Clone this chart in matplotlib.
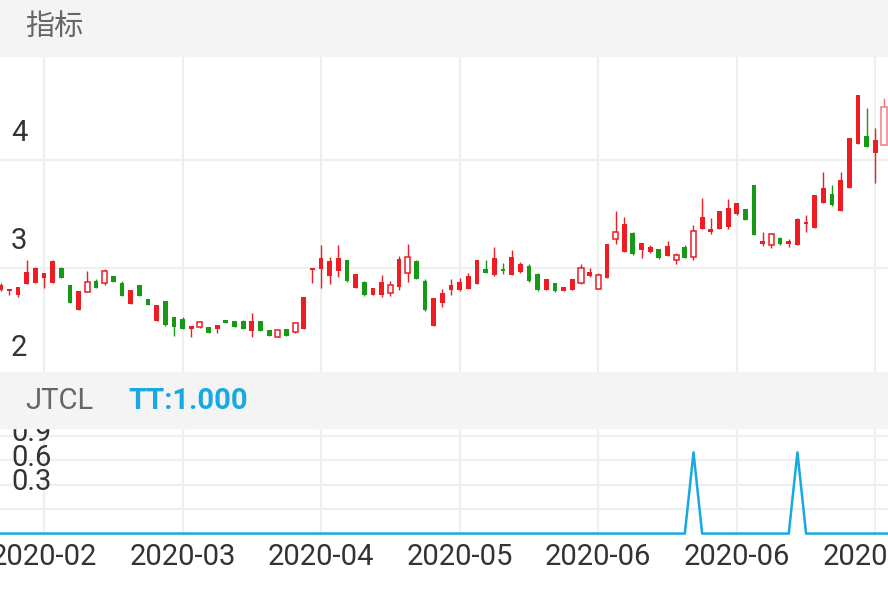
import matplotlib
matplotlib.use('Agg')
import matplotlib.pyplot as plt
import matplotlib.transforms as mtransforms
from matplotlib.patches import Rectangle
import numpy as np

plt.rcParams['font.family'] = ['Roboto', 'Noto Sans CJK SC', 'DejaVu Sans']

# daily OHLC (one value per trading day)
opens = [2.79, 2.78, 2.75, 2.85, 2.86, 2.90, 2.86, 3.00, 2.84, 2.61,
         2.77, 2.88, 2.86, 2.92, 2.86, 2.66, 2.84, 2.71, 2.50, 2.69,
         2.54, 2.52, 2.43, 2.45, 2.45, 2.43, 2.51, 2.50, 2.50, 2.41,
         2.50, 2.42, 2.35, 2.43, 2.40, 2.43, 2.98, 2.99, 2.92, 2.97,
         3.07, 2.81, 2.87, 2.75, 2.75, 2.76, 2.82, 2.95, 3.06, 2.88,
         2.46, 2.67, 2.79, 2.79, 2.80, 2.85, 2.99, 2.93, 2.99, 2.93,
         2.96, 3.02, 2.94, 2.79, 2.86, 2.78, 2.79, 2.86, 2.92, 2.80,
         2.90, 3.27, 3.15, 3.32, 3.16, 3.15, 3.17, 3.11, 3.07, 3.19,
         3.10, 3.36, 3.33, 3.36, 3.38, 3.50, 3.55, 3.77, 3.22, 3.21,
         3.28, 3.22, 3.21, 3.41, 3.37, 3.60, 3.69, 3.53, 3.74, 4.15,
         4.23, 4.07, 4.14]
highs = [2.86, 2.80, 2.82, 3.07, 3.01, 2.95, 3.07, 3.01, 2.84, 2.78,
         2.97, 2.89, 2.99, 2.92, 2.88, 2.79, 2.84, 2.71, 2.65, 2.69,
         2.54, 2.54, 2.46, 2.50, 2.45, 2.47, 2.51, 2.50, 2.51, 2.58,
         2.50, 2.42, 2.42, 2.43, 2.49, 2.73, 3.00, 3.21, 3.10, 3.21,
         3.07, 2.94, 2.88, 2.81, 2.93, 2.88, 3.11, 3.22, 3.07, 2.89,
         2.72, 2.80, 2.89, 2.90, 2.95, 3.07, 3.07, 3.19, 3.04, 3.16,
         3.05, 3.03, 2.95, 2.89, 2.86, 2.82, 2.89, 3.03, 3.00, 2.95,
         3.22, 3.53, 3.47, 3.33, 3.23, 3.21, 3.17, 3.25, 3.14, 3.21,
         3.40, 3.65, 3.46, 3.53, 3.64, 3.60, 3.55, 3.77, 3.33, 3.32,
         3.29, 3.27, 3.46, 3.49, 3.68, 3.89, 3.77, 3.89, 4.21, 4.61,
         4.49, 4.30, 4.58]
lows = [2.78, 2.75, 2.73, 2.85, 2.86, 2.81, 2.86, 2.90, 2.67, 2.61,
        2.77, 2.81, 2.84, 2.87, 2.74, 2.66, 2.74, 2.65, 2.50, 2.46,
        2.36, 2.43, 2.35, 2.44, 2.39, 2.39, 2.48, 2.45, 2.43, 2.35,
        2.41, 2.36, 2.35, 2.36, 2.39, 2.43, 2.86, 2.81, 2.85, 2.91,
        2.87, 2.81, 2.74, 2.75, 2.73, 2.74, 2.79, 2.87, 2.89, 2.60,
        2.46, 2.63, 2.75, 2.78, 2.80, 2.85, 2.95, 2.92, 2.94, 2.93,
        2.95, 2.87, 2.78, 2.79, 2.77, 2.78, 2.79, 2.85, 2.91, 2.80,
        2.90, 3.22, 3.15, 3.12, 3.09, 3.14, 3.08, 3.11, 3.03, 3.09,
        3.07, 3.36, 3.31, 3.36, 3.36, 3.49, 3.44, 3.30, 3.20, 3.18,
        3.21, 3.19, 3.21, 3.33, 3.37, 3.60, 3.57, 3.53, 3.74, 4.15,
        4.12, 3.79, 4.14]
closes = [2.84, 2.80, 2.82, 2.96, 3.00, 2.95, 3.06, 2.90, 2.67, 2.78,
          2.87, 2.81, 2.97, 2.87, 2.74, 2.79, 2.74, 2.65, 2.65, 2.47,
          2.45, 2.43, 2.46, 2.49, 2.39, 2.47, 2.48, 2.45, 2.43, 2.50,
          2.41, 2.36, 2.42, 2.36, 2.48, 2.73, 3.00, 3.09, 3.06, 3.09,
          2.88, 2.94, 2.75, 2.81, 2.87, 2.84, 3.08, 3.10, 2.89, 2.61,
          2.72, 2.76, 2.84, 2.87, 2.92, 3.07, 2.95, 3.09, 2.97, 3.10,
          3.03, 2.88, 2.79, 2.89, 2.78, 2.82, 2.89, 3.00, 2.96, 2.93,
          3.22, 3.33, 3.41, 3.13, 3.23, 3.19, 3.09, 3.20, 3.12, 3.09,
          3.34, 3.47, 3.36, 3.53, 3.56, 3.60, 3.44, 3.30, 3.25, 3.31,
          3.22, 3.25, 3.45, 3.43, 3.68, 3.74, 3.58, 3.82, 4.21, 4.61,
          4.12, 4.19, 4.50]
# days drawn as hollow candles
hollow_days = [10, 12, 23, 32, 34, 45, 47, 67, 69, 71, 78, 80, 89, 102]

# JTCL indicator, TT line
tt = [0, 0, 0, 0, 0, 0, 0, 0, 0, 0, 0, 0, 0, 0, 0, 0, 0, 0, 0, 0,
      0, 0, 0, 0, 0, 0, 0, 0, 0, 0, 0, 0, 0, 0, 0, 0, 0, 0, 0, 0,
      0, 0, 0, 0, 0, 0, 0, 0, 0, 0, 0, 0, 0, 0, 0, 0, 0, 0, 0, 0,
      0, 0, 0, 0, 0, 0, 0, 0, 0, 0, 0, 0, 0, 0, 0, 0, 0, 0, 0, 0,
      1, 0, 0, 0, 0, 0, 0, 0, 0, 0, 0, 0, 1, 0, 0, 0, 0, 0, 0, 0,
      0, 0, 0, 0]

tick_days = [5, 21, 37, 53, 69, 85, 101]
tick_labels = ['2020-02', '2020-03', '2020-04', '2020-05', '2020-06', '2020-06', '2020-07']
price_grid = [2, 3, 4, 5]
price_labels = [2, 3, 4]
tt_grid = [0.3, 0.6, 0.9, 1.2]
tt_labels = [0.3, 0.6, 0.9]

RED = '#ee1c23'
GREEN = '#169a16'
BLUE = '#18a8e2'
GRID = '#efefef'
BAND = '#f4f4f4'
FS = 21

W, H = 888, 590
fig = plt.figure(figsize=(W / 100, H / 100), dpi=100)


def px_axes(top, bottom):
    return fig.add_axes([0, (H - bottom) / H, 1, (bottom - top) / H])


ax = px_axes(56, 372)
ax2 = px_axes(428, 536)

# grey bands
for top, bottom in [(0, 56), (372, 428)]:
    fig.patches.append(Rectangle((0, (H - bottom) / H), 1, (bottom - top) / H,
                                 transform=fig.transFigure, color=BAND, zorder=0))

n = len(opens)
x = np.arange(n)
o = np.array(opens)
c = np.array(closes)
hi = np.array(highs)
lo = np.array(lows)
up = c >= o
cols = [RED if u else GREEN for u in up]
cols[-1] = '#f27a7a'

for a in (ax, ax2):
    a.set_xlim(-0.08, 102.46)
    for s in a.spines.values():
        s.set_visible(False)
    a.set_xticks(tick_days)
    a.tick_params(length=0)
    a.set_yticks([])
    for t in tick_days:
        a.axvline(t, color=GRID, lw=1.6, zorder=0)

# candles
ax.vlines(x, lo, hi, colors=cols, lw=1.0, zorder=2)
body_lo = np.minimum(o, c)
body_h = np.maximum(np.abs(c - o), 0.012)
filled = [i for i in range(n) if i not in hollow_days]
ax.bar(x[filled], body_h[filled], 0.55, bottom=body_lo[filled],
       color=[cols[i] for i in filled], linewidth=0, zorder=3)
ax.bar(x[hollow_days], body_h[hollow_days], 0.6, bottom=body_lo[hollow_days],
       facecolor='white', edgecolor=[cols[i] for i in hollow_days], linewidth=1.1, zorder=3)

ax.set_ylim(2.028, 4.972)
for v in price_grid:
    ax.axhline(v, color=GRID, lw=1.6, zorder=0)
ax.set_xticklabels([])

ax2.plot(np.arange(len(tt)), tt, color=BLUE, lw=1.8, zorder=3, clip_on=False)
ax2.set_ylim(-0.03, 1.30)
for v in tt_grid:
    ax2.axhline(v, color=GRID, lw=1.6, zorder=0)
ax2.set_xticklabels(tick_labels, fontsize=FS, color='#333333')
ax2.tick_params(axis='x', pad=5)

# y labels sit inside the plot, just above their grid line
off = mtransforms.ScaledTranslation(11 / 100, 27 / 100, fig.dpi_scale_trans)
for v in price_labels:
    ax.text(0, v, str(v), transform=ax.get_yaxis_transform() + off,
            ha='left', va='center', fontsize=FS, color='#333333', clip_on=True)
for v in tt_labels:
    ax2.text(0, v, '%.1f' % v, transform=ax2.get_yaxis_transform() + off,
             ha='left', va='center', fontsize=FS, color='#333333', clip_on=True)

fig.text(25 / W, 1 - 27 / H, '指标', ha='left', va='center', fontsize=FS, color='#666666')
fig.text(25 / W, 1 - 401 / H, 'JTCL', ha='left', va='center', fontsize=FS, color='#666666')
fig.text(128 / W, 1 - 401 / H, 'TT:1.000', ha='left', va='center', fontsize=FS,
         color=BLUE, fontweight='bold')

fig.savefig('out.png', dpi=100)
